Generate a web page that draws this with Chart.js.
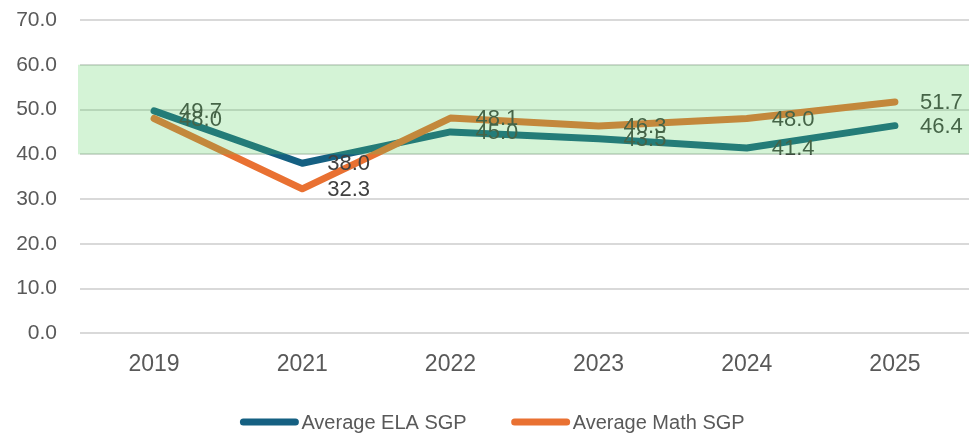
<!DOCTYPE html>
<html>
<head>
<meta charset="utf-8">
<script src="https://cdn.jsdelivr.net/npm/chart.js@4.4.1/dist/chart.umd.min.js"></script>
<style>
  html, body { margin: 0; padding: 0; background: #ffffff; }
  #wrap { width: 969px; height: 436px; }
</style>
</head>
<body>
<div id="wrap"><canvas id="myChart" width="969" height="436"></canvas></div>
<script>
"use strict";

const years = ["2019", "2021", "2022", "2023", "2024", "2025"];
const elaSgp = [49.7, 38.0, 45.0, 43.5, 41.4, 46.4];
const mathSgp = [48.0, 32.3, 48.1, 46.3, 48.0, 51.7];
const bandLow = 40;
const bandHigh = 60;

const fontFamily = "'Liberation Sans', Arial, sans-serif";

// value labels to the right of each point
const valueLabels = {
  id: "valueLabels",
  afterDatasetsDraw(chart) {
    const ctx = chart.ctx;
    ctx.save();
    ctx.font = "22px " + fontFamily;
    ctx.fillStyle = "#404040";
    ctx.textAlign = "left";
    ctx.textBaseline = "middle";
    chart.data.datasets.forEach(function (ds, i) {
      const meta = chart.getDatasetMeta(i);
      meta.data.forEach(function (pt, j) {
        ctx.fillText(ds.data[j].toFixed(1), pt.x + 25, pt.y + 1);
      });
    });
    ctx.restore();
  }
};

// translucent green target band, laid over everything in the plot
const targetBand = {
  id: "targetBand",
  afterDraw(chart) {
    const ctx = chart.ctx;
    const area = chart.chartArea;
    const y = chart.scales.y;
    const top = y.getPixelForValue(bandHigh);
    const bottom = y.getPixelForValue(bandLow);
    ctx.save();
    ctx.fillStyle = "rgba(83, 207, 91, 0.25)";
    ctx.fillRect(area.left - 2, top, area.right - area.left + 2, bottom - top);
    ctx.restore();
  }
};

// legend drawn by hand so swatch/text spacing follows the original
const lineLegend = {
  id: "lineLegend",
  afterDraw(chart) {
    const ctx = chart.ctx;
    const swatch = 52;
    const gapText = 6;
    const gapItem = 48;
    const cy = 422;
    ctx.save();
    ctx.font = "20px " + fontFamily;
    const items = chart.data.datasets.map(function (ds) {
      return { text: ds.label, color: ds.borderColor, w: ctx.measureText(ds.label).width };
    });
    let total = 0;
    items.forEach(function (it, i) {
      total += swatch + gapText + it.w + (i > 0 ? gapItem : 0);
    });
    let x = 494 - total / 2;
    items.forEach(function (it) {
      ctx.strokeStyle = it.color;
      ctx.lineWidth = 7;
      ctx.lineCap = "round";
      ctx.beginPath();
      ctx.moveTo(x, cy);
      ctx.lineTo(x + swatch, cy);
      ctx.stroke();
      ctx.fillStyle = "#595959";
      ctx.textAlign = "left";
      ctx.textBaseline = "middle";
      ctx.fillText(it.text, x + swatch + gapText, cy + 1);
      x += swatch + gapText + it.w + gapItem;
    });
    ctx.restore();
  }
};

const ctx = document.getElementById("myChart").getContext("2d");
const myChart = new Chart(ctx, {
  type: "line",
  data: {
    labels: years,
    datasets: [
      {
        label: "Average ELA SGP",
        data: elaSgp,
        borderColor: "#156082",
        backgroundColor: "#156082",
        borderWidth: 7,
        borderCapStyle: "round",
        borderJoinStyle: "round",
        pointRadius: 0,
        tension: 0,
        order: 2
      },
      {
        label: "Average Math SGP",
        data: mathSgp,
        borderColor: "#E97132",
        backgroundColor: "#E97132",
        borderWidth: 7,
        borderCapStyle: "round",
        borderJoinStyle: "round",
        pointRadius: 0,
        tension: 0,
        order: 1
      }
    ]
  },
  options: {
    responsive: false,
    animation: false,
    layout: { padding: { left: 16, right: 0, top: 20, bottom: 41 } },
    plugins: {
      tooltip: { enabled: false },
      legend: { display: false }
    },
    scales: {
      x: {
        offset: true,
        grid: { display: false, drawTicks: false },
        border: { display: false },
        ticks: {
          color: "#595959",
          padding: 17,
          font: { family: fontFamily, size: 23 }
        }
      },
      y: {
        min: 0,
        max: 70,
        grid: { color: "#d9d9d9", lineWidth: 2, drawTicks: false },
        border: { display: false },
        ticks: {
          stepSize: 10,
          color: "#595959",
          padding: 23,
          font: { family: fontFamily, size: 21 },
          callback: function (v) { return v.toFixed(1); }
        },
        afterFit: function (scale) {
          scale.width = 64;
          scale.paddingTop = 0;
        }
      }
    }
  },
  plugins: [valueLabels, targetBand, lineLegend]
});
</script>
</body>
</html>
